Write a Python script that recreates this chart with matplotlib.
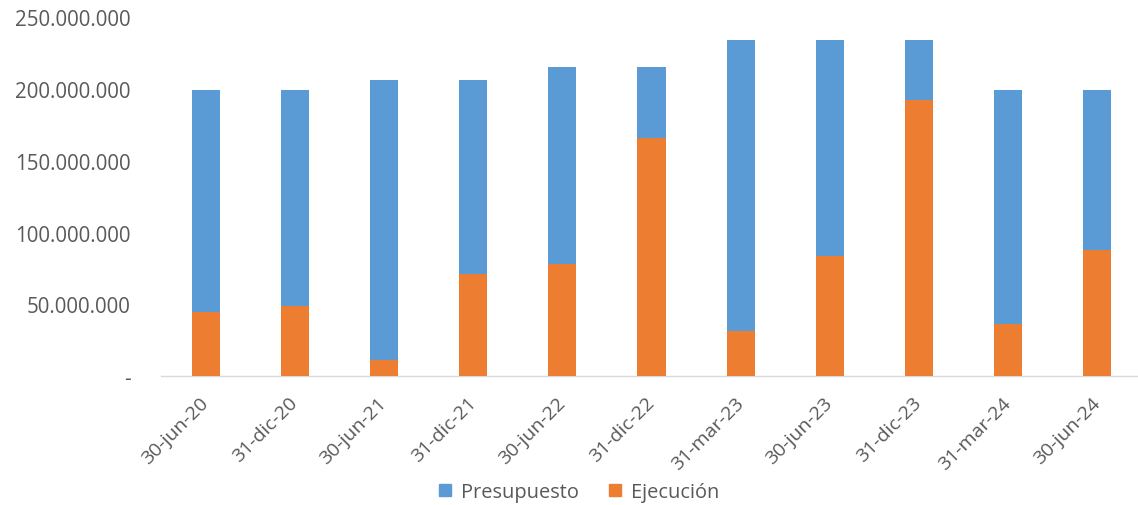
import matplotlib
matplotlib.use("Agg")
import matplotlib.pyplot as plt
import matplotlib.ticker as mticker
from matplotlib.patches import Patch

fechas = ["30-jun-20", "31-dic-20", "30-jun-21", "31-dic-21", "30-jun-22", "31-dic-22",
          "31-mar-23", "30-jun-23", "31-dic-23", "31-mar-24", "30-jun-24"]
presupuesto = [199.5e6, 199.5e6, 206.5e6, 206.5e6, 215.6e6, 215.6e6,
               234.4e6, 234.4e6, 234.4e6, 199.5e6, 199.5e6]
ejecucion = [44.4e6, 48.6e6, 11.4e6, 70.9e6, 78.1e6, 165.7e6,
             31.6e6, 83.8e6, 192.6e6, 36.2e6, 88.0e6]

azul = "#5B9BD5"
naranja = "#ED7D31"
gris_texto = "#595959"

plt.rcParams['font.family'] = ['Open Sans', 'DejaVu Sans']

def fmt_miles(v, pos):
    if abs(v) < 1:
        return "-"
    return f"{v:,.0f}".replace(",", ".")

W, H = 1138, 506
fig = plt.figure(figsize=(W / 100, H / 100), dpi=100)
ax = fig.add_axes([161 / W, 1 - 377 / H, 981 / W, 358.7 / H])

x = list(range(len(fechas)))
ax.bar(x, presupuesto, width=0.315, color=azul, zorder=2)
ax.bar(x, ejecucion, width=0.315, color=naranja, zorder=3)

ax.set_xlim(-0.5, len(fechas) - 0.5)
ax.set_ylim(0, 250e6)
ax.yaxis.set_major_locator(mticker.MultipleLocator(50e6))
ax.yaxis.set_major_formatter(mticker.FuncFormatter(fmt_miles))

for s in ["top", "right", "left"]:
    ax.spines[s].set_visible(False)
ax.spines["bottom"].set_color("#D9D9D9")
ax.spines["bottom"].set_linewidth(1.0)

ax.tick_params(axis="y", length=0, pad=22, labelsize=14.8, labelcolor=gris_texto)
ax.tick_params(axis="x", length=0, pad=17, labelsize=14, labelcolor=gris_texto)
ax.set_xticks(x)
ax.set_xticklabels(fechas, rotation=45, ha="right", va="center", rotation_mode="anchor")

handles = [Patch(color=azul, label="Presupuesto"), Patch(color=naranja, label="Ejecución")]
fig.legend(handles=handles, loc="center", bbox_to_anchor=(579 / W, 1 - 493 / H), ncol=2,
           frameon=False, fontsize=14.4, labelcolor=gris_texto, handlelength=0.6,
           handleheight=0.6, handletextpad=0.5, columnspacing=1.5)

fig.savefig("out.png", dpi=100)
